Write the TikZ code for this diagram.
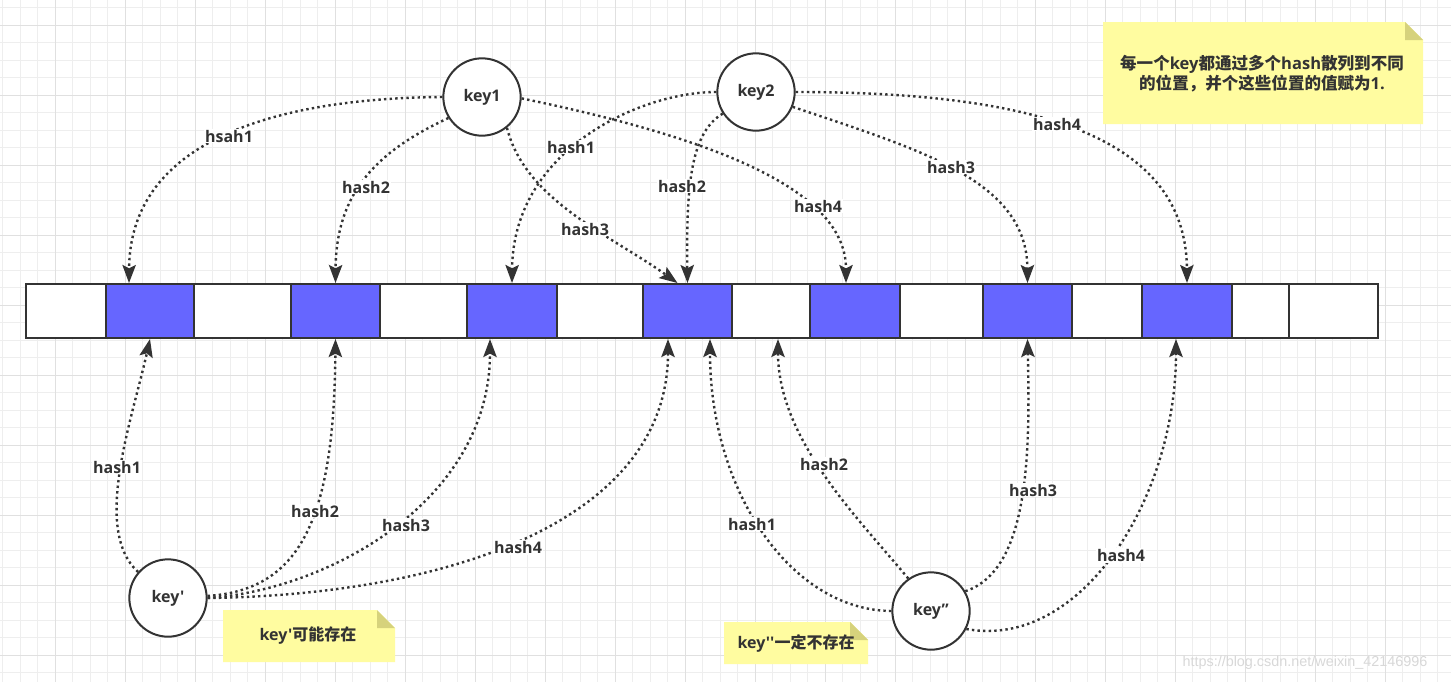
\documentclass[tikz,border=0pt]{standalone}
\usepackage{fontspec}
\newfontfamily\latfont{Open Sans}
\newfontfamily\cjk{Noto Sans CJK SC}
\newfontfamily\wmfont{Liberation Sans}
\usetikzlibrary{arrows.meta,calc}
\newcommand\zhtxt[1]{{\cjk\bfseries #1}}
\definecolor{ink}{HTML}{333333}
\definecolor{cellblue}{HTML}{6666FF}
\definecolor{notey}{HTML}{FFFCA0}
\definecolor{notefold}{HTML}{D6D27C}
\definecolor{gridminor}{HTML}{EEEEEE}
\definecolor{gridmajor}{HTML}{E0E0E0}
\definecolor{wmgray}{HTML}{D8D8D8}
\begin{document}
\begin{tikzpicture}[x=0.75pt,y=-0.75pt,
  lab/.style={font=\latfont\bfseries\fontsize{12}{14.6}\selectfont, text=ink},
  keynode/.style={circle, draw=ink, line width=1.5pt, fill=white, minimum size=58pt, inner sep=0pt, lab},
  cell/.style={draw=ink, line width=1.5pt, minimum height=40.5pt, inner sep=0pt},
  conn/.style={draw=ink, line width=1.8pt, dash pattern=on 1.8pt off 2.4pt, -{Stealth[length=13.5pt,width=10pt,inset=2.5pt]}},
  lbl/.style={lab, fill=white, inner sep=1pt},
  notetext/.style={lab, align=center},
]
\fill[white] (0,0) rectangle (1451,682);
\useasboundingbox (0,0) rectangle (1451,682);
% grid
\foreach \x in {2.5,20,...,1451} \draw[gridminor, line width=0.75pt] (\x,0) -- (\x,682);
\foreach \y in {7.5,25,...,682} \draw[gridminor, line width=0.75pt] (0,\y) -- (1451,\y);
\foreach \x in {55,125,...,1451} \draw[gridmajor, line width=0.75pt] (\x,0) -- (\x,682);
\foreach \y in {25,95,...,682} \draw[gridmajor, line width=0.75pt] (0,\y) -- (1451,\y);

% array cells
\foreach \i/\l/\r/\f in {1/26/106/white,2/106/194/cellblue,3/194/291/white,4/291/380/cellblue,
  5/380/467/white,6/467/557/cellblue,7/557/643/white,8/643/732/cellblue,9/732/810/white,
  10/810/900/cellblue,11/900/983/white,12/983/1072/cellblue,13/1072/1142/white,
  14/1142/1232/cellblue,15/1232/1289/white,16/1289/1378/white}
  \node[cell, fill=\f, minimum width={(\r-\l)*0.75pt}] (c\i) at ({(\l+\r)/2},311) {};

% keys
\node[keynode] (k1) at (482,97) {key1};
\node[keynode] (k2) at (756,92) {key2};
\node[keynode] (kp) at (168,598) {key'};
\node[keynode] (kpp) at (931,611) {key”};

% key1
\draw[conn] (k1.180) .. controls (300,98) and (130,130) .. ($(c2.north)+(-21,0)$) node[lbl,at={(229,136)}] {hsah1};
\draw[conn] (k1.212) .. controls (380,150) and (336,190) .. (c4.north) node[lbl,at={(366,187)}] {hash2};
\draw[conn] (k1.309) .. controls (525,200) and (610,235) .. ($(c8.north)+(-10,0)$) node[lbl,at={(585,229)}] {hash3};
\draw[conn] (k1.358) .. controls (723,140) and (846,192) .. ($(c10.north)+(-9,0)$) node[lbl,at={(818,206)}] {hash4};
% key2
\draw[conn] (k2.180) .. controls (640,92) and (513,150) .. (c6.north) node[lbl,at={(571,147)}] {hash1};
\draw[conn] (k2.213) .. controls (692,132) and (686,180) .. (c8.north) node[lbl,at={(682,186)}] {hash2};
\draw[conn] (k2.338) .. controls (920,150) and (1027,180) .. (c12.north) node[lbl,at={(951,167)}] {hash3};
\draw[conn] (k2.0) .. controls (1020,92) and (1186,130) .. (c14.north) node[lbl,at={(1057,124)}] {hash4};
% key'
\draw[conn] (kp.139) .. controls (92,530) and (132,420) .. (c2.south) node[lbl,at={(117,467)}] {hash1};
\draw[conn] (kp.3) .. controls (300,590) and (334,520) .. (c4.south) node[lbl,at={(315,511)}] {hash2};
\draw[conn] (kp.0) .. controls (330,590) and (490,500) .. ($(c6.south)+(-22,0)$) node[lbl,at={(406,525)}] {hash3};
\draw[conn] (kp.0) .. controls (450,595) and (668,520) .. ($(c8.south)+(-19.5,0)$) node[lbl,at={(518,547)}] {hash4};
% key''
\draw[conn] (kpp.180) .. controls (790,610) and (710,490) .. ($(c8.south)+(22.5,0)$) node[lbl,at={(752,524)}] {hash1};
\draw[conn] (kpp.125) .. controls (860,520) and (778,440) .. ($(c9.south)+(7,0)$) node[lbl,at={(824,464)}] {hash2};
\draw[conn] (kpp.30) .. controls (1030,570) and (1030,450) .. (c12.south) node[lbl,at={(1033,490)}] {hash3};
\draw[conn] (kpp.333) .. controls (1080,650) and (1176,500) .. ($(c14.south)+(-11,0)$) node[lbl,at={(1121,555)}] {hash4};

% notes
\fill[notey] (1103,22) -- (1405,22) -- (1423,40) -- (1423,124) -- (1103,124) -- cycle;
\fill[notefold] (1405,22) -- (1405,40) -- (1423,40) -- cycle;
\node[notetext, font=\latfont\bfseries\fontsize{12.4}{14.8}\selectfont] (n1) at (1262,74) {\zhtxt{每一个}key\zhtxt{都通过多个}hash\zhtxt{散列到不同}\\\zhtxt{的位置，并个这些位置的值赋为}1.};

\fill[notey] (223,610) -- (377,610) -- (395,628) -- (395,662) -- (223,662) -- cycle;
\fill[notefold] (377,610) -- (377,628) -- (395,628) -- cycle;
\node[notetext] (n2) at (308,636) {key'\zhtxt{可能存在}};

\fill[notey] (724,622) -- (850,622) -- (868,640) -- (868,664) -- (724,664) -- cycle;
\fill[notefold] (850,622) -- (850,640) -- (868,640) -- cycle;
\node[notetext] (n3) at (796,643) {key''\zhtxt{一定不存在}};

% watermark
\node[font=\wmfont\fontsize{10.8}{12}\selectfont, text=wmgray] (wm) at (1305,663) {https://blog.csdn.net/weixin\_42146996};
\end{tikzpicture}
\end{document}
